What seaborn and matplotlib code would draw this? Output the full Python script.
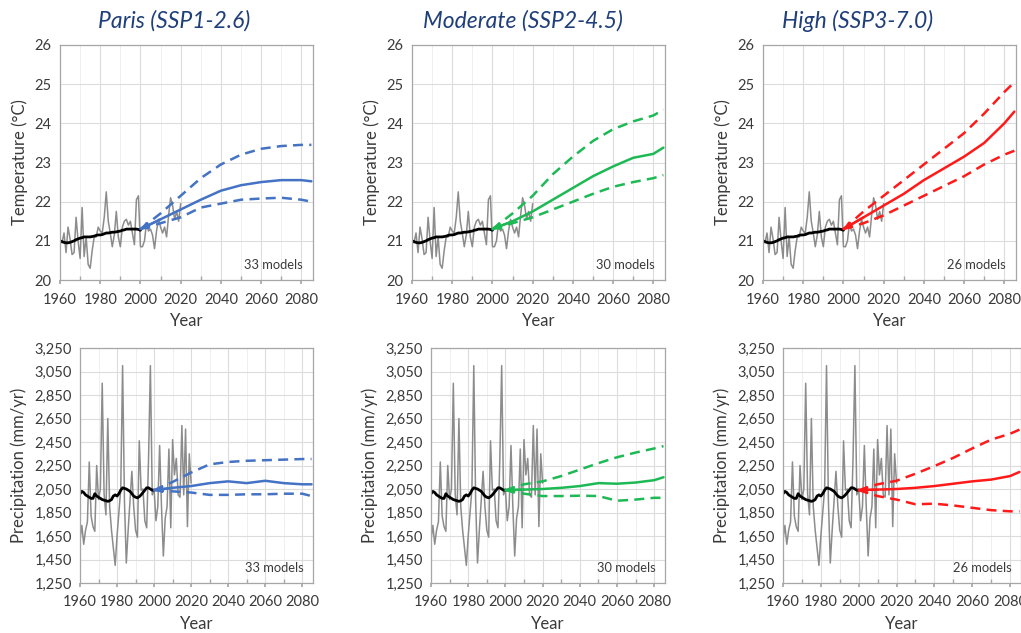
import numpy as np
import pandas as pd
import matplotlib
matplotlib.use("Agg")
import matplotlib.pyplot as plt
from matplotlib.ticker import FuncFormatter, MultipleLocator, FixedLocator
import seaborn as sns

# observed record 1960-2020
obs_years = list(range(1960, 2021))
temp_obs = [21.0, 20.95, 21.2, 20.7, 21.35, 21.05, 20.65, 20.7, 21.6, 21.0,
            20.55, 21.85, 20.6, 21.1, 20.4, 20.3, 20.75, 21.1, 21.1, 21.35,
            21.25, 21.2, 21.6, 22.25, 21.5, 21.2, 20.85, 21.15, 21.75, 21.1,
            20.85, 21.35, 21.5, 21.55, 21.4, 21.5, 21.2, 20.9, 22.05, 22.15,
            20.85, 20.85, 21.0, 21.45, 21.25, 21.3, 21.15, 20.8, 21.25, 21.55,
            21.35, 21.2, 21.35, 21.1, 21.65, 22.1, 21.9, 21.55, 21.75, 21.5,
            21.95]
precip_obs = [1620, 1740, 1580, 1700, 1770, 2280, 1820, 1730, 1690, 2250,
              1960, 2050, 2950, 2010, 1830, 2650, 1900, 1700, 1550, 1400,
              1650, 1850, 2050, 3100, 1950, 1420, 1700, 1950, 2200, 1900,
              1700, 1640, 2460, 2040, 2050, 1780, 1720, 2300, 3100, 2000,
              2050, 1780, 1900, 2420, 1900, 1480, 1800, 1900, 2390, 1720,
              2470, 2170, 2310, 2000, 1980, 2590, 2000, 2560, 1730, 2350,
              2100]

# smoothed record 1960-2000
smooth_years = list(range(1960, 2001))
temp_smooth = [21.0, 20.98, 20.96, 20.95, 20.95, 20.96, 20.98, 21.0, 21.03, 21.05,
               21.07, 21.08, 21.1, 21.1, 21.1, 21.1, 21.11, 21.12, 21.14, 21.15,
               21.15, 21.16, 21.18, 21.2, 21.2, 21.21, 21.22, 21.22, 21.23, 21.24,
               21.25, 21.27, 21.28, 21.3, 21.3, 21.3, 21.3, 21.3, 21.3, 21.29,
               21.27]
precip_smooth = [2010, 2030, 2020, 2000, 1990, 1980, 1970, 1970, 2010, 1990,
                 1980, 1970, 1960, 1955, 1950, 1945, 1950, 1960, 1990, 2000,
                 1990, 2010, 2040, 2060, 2055, 2050, 2040, 2030, 2010, 1990,
                 1980, 1975, 1985, 2000, 2020, 2040, 2060, 2060, 2050, 2040,
                 2040]

# projections
proj_years = [2000, 2010, 2020, 2030, 2040, 2050, 2060, 2070, 2080, 2085]

scenarios = ["Paris (SSP1-2.6)", "Moderate (SSP2-4.5)", "High (SSP3-7.0)"]
n_models = [33, 30, 26]
colors = ["#4472C4", "#1DB954", "#FF1A1A"]

temp_mean = [
    [21.3, 21.55, 21.8, 22.05, 22.28, 22.42, 22.5, 22.55, 22.55, 22.52],
    [21.3, 21.5, 21.75, 22.05, 22.35, 22.65, 22.9, 23.12, 23.22, 23.38],
    [21.3, 21.6, 21.9, 22.2, 22.55, 22.85, 23.15, 23.5, 24.0, 24.3],
]
temp_upper = [
    [21.3, 21.7, 22.15, 22.6, 22.95, 23.2, 23.35, 23.42, 23.45, 23.45],
    [21.3, 21.7, 22.15, 22.7, 23.15, 23.55, 23.85, 24.05, 24.2, 24.35],
    [21.3, 21.75, 22.15, 22.55, 22.95, 23.35, 23.75, 24.25, 24.8, 25.05],
]
temp_lower = [
    [21.3, 21.45, 21.6, 21.85, 21.95, 22.05, 22.08, 22.1, 22.05, 22.0],
    [21.3, 21.45, 21.6, 21.8, 22.0, 22.2, 22.38, 22.5, 22.6, 22.68],
    [21.3, 21.45, 21.65, 21.9, 22.15, 22.4, 22.65, 22.95, 23.2, 23.3],
]
precip_mean = [
    [2040, 2060, 2075, 2100, 2115, 2100, 2120, 2100, 2090, 2090],
    [2040, 2045, 2050, 2060, 2075, 2100, 2095, 2105, 2125, 2150],
    [2040, 2045, 2050, 2060, 2075, 2095, 2115, 2130, 2160, 2195],
]
precip_upper = [
    [2040, 2110, 2190, 2260, 2280, 2290, 2295, 2300, 2305, 2305],
    [2040, 2090, 2115, 2160, 2215, 2270, 2320, 2360, 2395, 2415],
    [2040, 2090, 2120, 2180, 2245, 2315, 2395, 2470, 2520, 2555],
]
precip_lower = [
    [2040, 2030, 2020, 2000, 2000, 2005, 2005, 2010, 2010, 1990],
    [2040, 2010, 1990, 1990, 1993, 1990, 1950, 1960, 1975, 1975],
    [2040, 1990, 1960, 1920, 1925, 1910, 1890, 1870, 1860, 1860],
]

temp_ticks = [20, 21, 22, 23, 24, 25, 26]
precip_ticks = [1250, 1450, 1650, 1850, 2050, 2250, 2450, 2650, 2850, 3050, 3250]

sns.set_theme(style="whitegrid")
plt.rcParams["font.family"] = ["Lato", "DejaVu Sans"]
TXT = "#3a3a3a"

W, H = 1021, 633
fig = plt.figure(figsize=(W / 100, H / 100), dpi=100)


def add_ax(x0, x1, y0, y1):
    return fig.add_axes([x0 / W, (H - y1) / H, (x1 - x0) / W, (y1 - y0) / H])


top_boxes = [(60, 313), (412, 665), (763, 1016)]
bot_boxes = [(80, 313), (431, 665), (783, 1021)]


def style_axis(ax, ylabel, ticks, fmt=None):
    ax.set_xlim(1960, 2085.8)
    ax.set_ylim(ticks[0], ticks[-1])
    ax.xaxis.set_major_locator(MultipleLocator(20))
    ax.xaxis.set_minor_locator(MultipleLocator(10))
    ax.yaxis.set_major_locator(FixedLocator(ticks))
    if fmt is not None:
        ax.yaxis.set_major_formatter(FuncFormatter(fmt))
    ax.grid(True, which="major", color="#dcdcdc", lw=0.8)
    ax.grid(True, which="minor", axis="x", color="#ececec", lw=0.6)
    for s in ax.spines.values():
        s.set_color("#a6a6a6")
        s.set_linewidth(0.9)
    ax.tick_params(axis="y", labelsize=10.5, colors=TXT, pad=6, length=0)
    ax.tick_params(axis="x", labelsize=10.5, colors=TXT, pad=6, length=3,
                   direction="out", color="#a6a6a6", bottom=True)
    ax.tick_params(axis="x", which="minor", direction="in", length=3,
                   color="#a6a6a6", bottom=True)
    ax.set_xlabel("Year", fontsize=12, color=TXT, labelpad=5)
    ax.set_ylabel(ylabel, fontsize=12, color=TXT, labelpad=5)


def draw_panel(ax, obs, smooth, mean, upper, lower, color, nm):
    sns.lineplot(x=obs_years, y=obs, ax=ax, color="#8c8c8c", lw=1.1)
    sns.lineplot(x=smooth_years, y=smooth, ax=ax, color="black", lw=2.0)
    sns.lineplot(x=proj_years, y=upper, ax=ax, color=color, lw=1.8,
                 linestyle=(0, (4, 2.5)))
    sns.lineplot(x=proj_years, y=lower, ax=ax, color=color, lw=1.8,
                 linestyle=(0, (4, 2.5)))
    sns.lineplot(x=proj_years, y=mean, ax=ax, color=color, lw=1.8)
    ax.annotate("", xy=(proj_years[0], mean[0]),
                xytext=(proj_years[1], mean[1]),
                arrowprops=dict(arrowstyle="-|>", color=color, lw=1.6,
                                mutation_scale=10, shrinkA=0, shrinkB=0))
    ax.text(0.96, 0.04, f"{nm} models", transform=ax.transAxes, ha="right",
            va="bottom", fontsize=9.3, color=TXT)


title_x = [174, 523, 858]
for i in range(3):
    ax = add_ax(top_boxes[i][0], top_boxes[i][1], 45, 280)
    draw_panel(ax, temp_obs, temp_smooth, temp_mean[i], temp_upper[i],
               temp_lower[i], colors[i], n_models[i])
    style_axis(ax, "Temperature (°C)", temp_ticks)

    ax = add_ax(bot_boxes[i][0], bot_boxes[i][1], 348, 583)
    draw_panel(ax, precip_obs, precip_smooth, precip_mean[i], precip_upper[i],
               precip_lower[i], colors[i], n_models[i])
    style_axis(ax, "Precipitation (mm/yr)", precip_ticks,
               fmt=lambda v, p: f"{int(v):,}")

    fig.text(title_x[i] / W, 1 - 21 / H, scenarios[i], ha="center",
             va="center", fontsize=16.5, style="italic", color="#1F3F7A")

fig.savefig("out.png", dpi=100)
